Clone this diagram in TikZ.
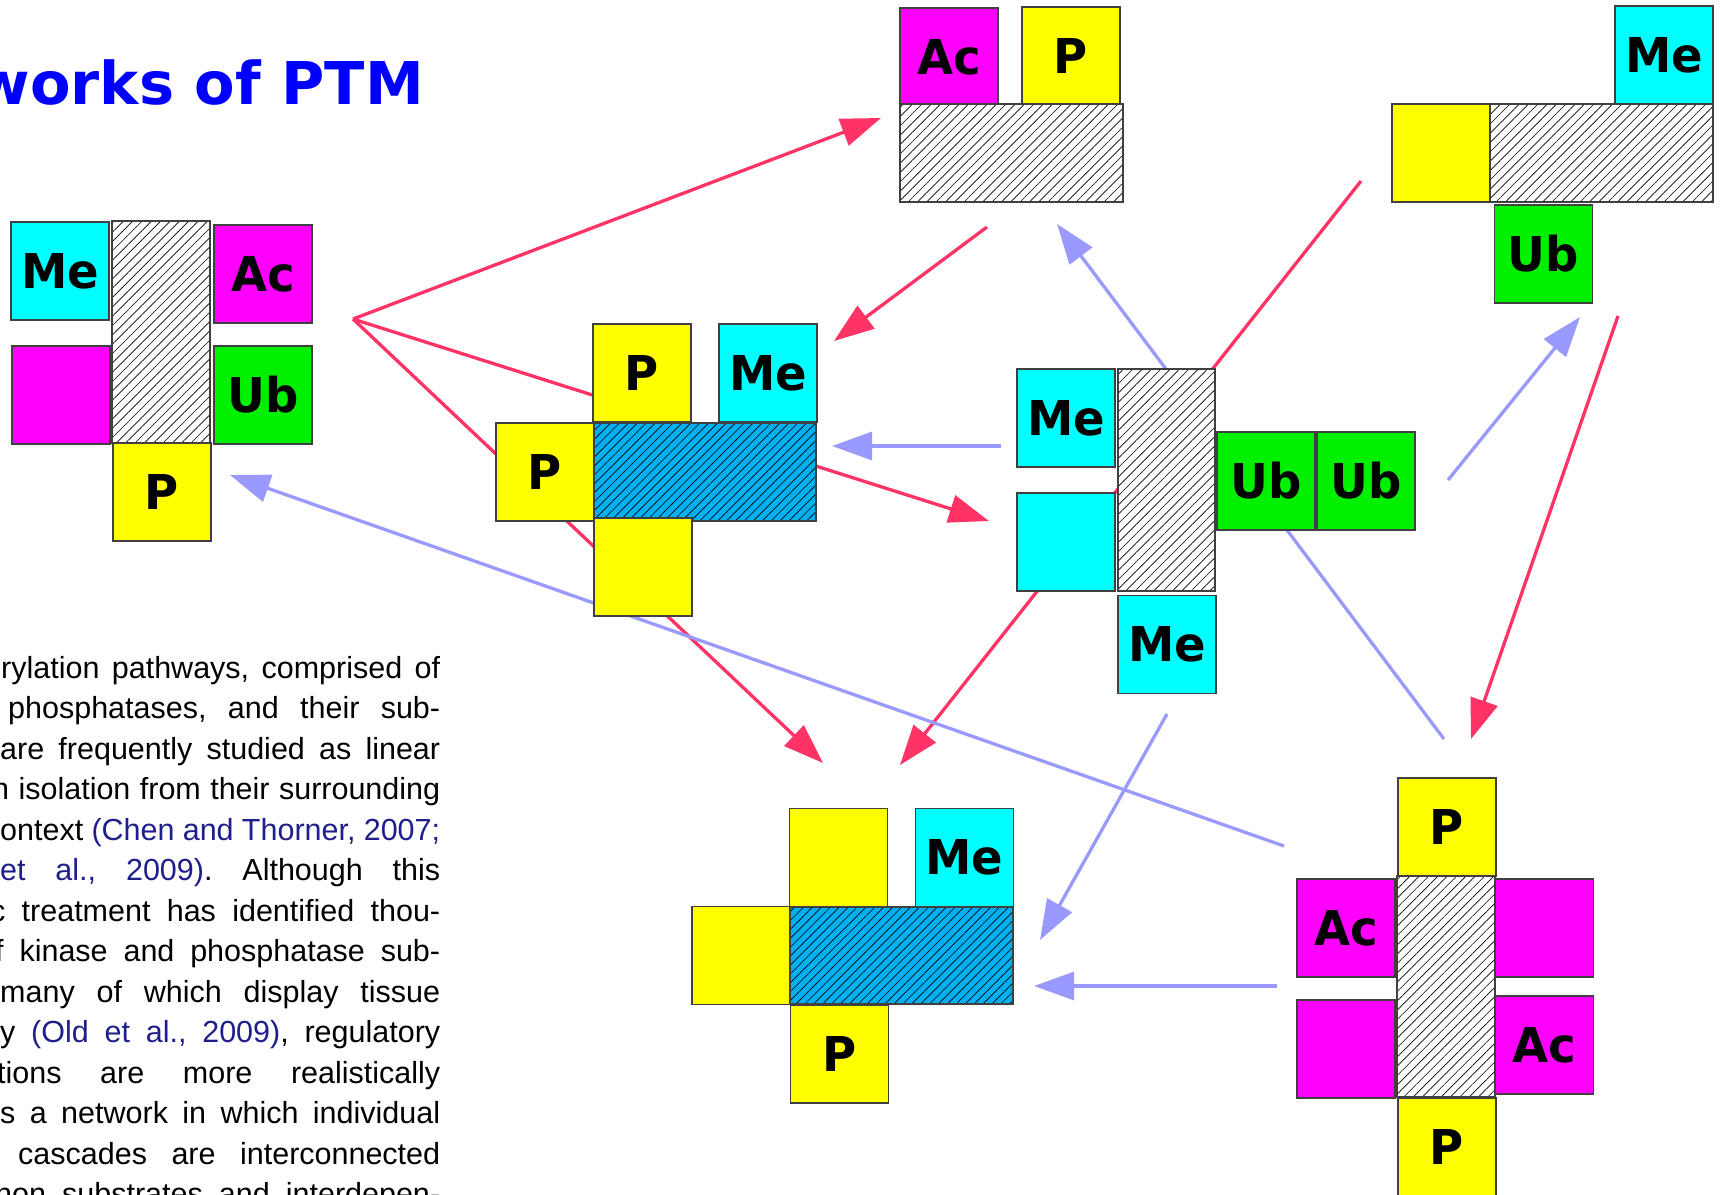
\documentclass[tikz,border=0pt]{standalone}
\usepackage{fontspec}
\setmainfont{Liberation Sans}
\newfontfamily\labelfont[FakeStretch=0.97]{DejaVu Sans}
\newfontfamily\titlefont{DejaVu Sans}
\newfontfamily\bodyfont{Liberation Sans}
\usetikzlibrary{arrows.meta,patterns.meta}
\definecolor{arrred}{RGB}{255,51,102}
\definecolor{arrblue}{RGB}{153,153,255}
\definecolor{boxyellow}{RGB}{255,255,0}
\definecolor{boxcyan}{RGB}{0,255,255}
\definecolor{boxmagenta}{RGB}{255,0,255}
\definecolor{boxgreen}{RGB}{0,240,0}
\definecolor{hatchblue}{RGB}{0,176,240}
\definecolor{titleblue}{RGB}{0,0,255}
\definecolor{citeblue}{RGB}{30,30,140}
\tikzset{
  box/.style={draw=black!75, line width=1.2pt, inner sep=0pt,
    minimum width=98pt, minimum height=98pt,
    font=\labelfont\bfseries\fontsize{48}{48}\selectfont, text=black},
  ybox/.style={box, fill=boxyellow},
  cbox/.style={box, fill=boxcyan},
  mbox/.style={box, fill=boxmagenta},
  gbox/.style={box, fill=boxgreen},
  whatch/.style={box, preaction={fill=white},
    pattern={Lines[angle=45,distance=6.6pt,line width=0.65pt]}},
  bhatch/.style={box, preaction={fill=hatchblue},
    pattern={Lines[angle=45,distance=6.3pt,line width=0.65pt]}},
  redarr/.style={draw=arrred, line width=3.3pt, -{Triangle[length=40pt,width=28pt]}},
  bluearr/.style={draw=arrblue, line width=3.3pt, -{Triangle[length=40pt,width=28pt]}},
  bodyline/.style={anchor=base west, inner sep=0pt, text=black,
    font=\bodyfont\fontsize{30.5}{30.5}\selectfont\frenchspacing},
}
\begin{document}
\begin{tikzpicture}[x=1pt,y=-1pt]
\useasboundingbox (0,0) rectangle (1721,1194);
\clip (0,0) rectangle (1721,1194);

% ---------- title
\node[anchor=base east, inner sep=0pt, text=titleblue,
  font=\titlefont\bfseries\fontsize{59}{59}\selectfont] (title) at (424,104) {works of PTM};

% ---------- body text (cut at the left edge)
\node[bodyline] (t1)  at (1,678)    {\makebox[439pt][s]{rylation pathways, comprised of}};
\node[bodyline] (t2)  at (8,718.5)  {\makebox[432pt][s]{phosphatases, and their sub-}};
\node[bodyline] (t3)  at (0,759)    {\makebox[440pt][s]{are frequently studied as linear}};
\node[bodyline] (t4)  at (-8,799.5) {\makebox[448pt][s]{n isolation from their surrounding}};
\node[bodyline] (t5)  at (0,840)    {\makebox[440pt][s]{ontext \textcolor{citeblue}{(Chen and Thorner, 2007;}}};
\node[bodyline] (t6)  at (0,880.5)  {\makebox[440pt][s]{\textcolor{citeblue}{et al., 2009)}. Although this}};
\node[bodyline] (t7)  at (-10,921)  {\makebox[450pt][s]{c treatment has identified thou-}};
\node[bodyline] (t8)  at (-5,961.5) {\makebox[445pt][s]{f kinase and phosphatase sub-}};
\node[bodyline] (t9)  at (0,1002)   {\makebox[440pt][s]{many of which display tissue}};
\node[bodyline] (t10) at (0,1042.5) {\makebox[440pt][s]{y \textcolor{citeblue}{(Old et al., 2009)}, regulatory}};
\node[bodyline] (t11) at (-3,1083)  {\makebox[443pt][s]{tions are more realistically}};
\node[bodyline] (t12) at (0,1123.5) {\makebox[440pt][s]{s a network in which individual}};
\node[bodyline] (t13) at (18,1164)  {\makebox[422pt][s]{cascades are interconnected}};
\node[bodyline] (t14) at (-5,1204.5){\makebox[445pt][s]{non substrates and interdepen-}};

% ---------- connector end points
\coordinate (hub) at (353,319);
\coordinate (r1e) at (881,118);
\coordinate (r2e) at (989,521);
\coordinate (r3e) at (823,763);
\coordinate (r4s) at (987,227);  \coordinate (r4e) at (834,341);
\coordinate (r5s) at (1361,181); \coordinate (r5e) at (900,765);
\coordinate (r7s) at (1618,316); \coordinate (r7e) at (1471,739);
\coordinate (b1s) at (1444,739); \coordinate (b1e) at (1057,224);
\coordinate (b2s) at (1001,446); \coordinate (b2e) at (832,446);
\coordinate (b3s) at (1448,480); \coordinate (b3e) at (1580,317);
\coordinate (b5s) at (1284,846); \coordinate (b5e) at (230,475);
\coordinate (b6s) at (1167,714); \coordinate (b6e) at (1040,940);
\coordinate (b7s) at (1277,986); \coordinate (b7e) at (1034,986);

% ---------- connectors (behind the boxes)
\draw[redarr] (hub) -- (r1e);
\draw[redarr] (hub) -- (r2e);
\draw[redarr] (hub) -- (r3e);
\draw[redarr] (r4s) -- (r4e);
\draw[redarr] (r5s) -- (r5e);
\draw[redarr] (r7s) -- (r7e);
\draw[bluearr] (b1s) -- (b1e);
\draw[bluearr] (b2s) -- (b2e);
\draw[bluearr] (b3s) -- (b3e);
\draw[bluearr] (b5s) -- (b5e);
\draw[bluearr] (b6s) -- (b6e);
\draw[bluearr] (b7s) -- (b7e);

% ---------- complex A (top left)
\node[cbox] (Ame) at (60,271) {Me};
\node[whatch, minimum height=222pt] (Ahat) at (161,332) {};
\node[mbox] (Aac) at (263,274) {Ac};
\node[mbox] (Amag) at (61,395) {};
\node[gbox] (Aub) at (263,395) {Ub};
\node[ybox] (Ap) at (162,492) {P};

% ---------- complex B (middle left)
\node[ybox] (Bp1) at (642,373) {P};
\node[cbox] (Bme) at (768,373) {Me};
\node[ybox] (Bp2) at (545,472) {P};
\node[bhatch, minimum width=222pt] (Bhat) at (705,472) {};
\node[ybox] (By) at (643,567) {};

% ---------- complex C (top middle)
\node[mbox] (Cac) at (949,57) {Ac};
\node[ybox] (Cp) at (1071,56) {P};
\node[whatch, minimum width=223pt] (Chat) at (1011.5,153) {};

% ---------- complex D (top right)
\node[ybox] (Dy) at (1441,153) {};
\node[whatch, minimum width=223pt] (Dhat) at (1601.5,153) {};
\node[cbox] (Dme) at (1664,55) {Me};
\node[gbox] (Dub) at (1543.5,254) {Ub};

% ---------- complex E (centre)
\node[cbox] (Eme) at (1066,418) {Me};
\node[whatch, minimum width=97pt, minimum height=222pt] (Ehat) at (1166.5,480) {};
\node[cbox] (Ecy) at (1066,542) {};
\node[gbox] (Eub1) at (1266,481) {Ub};
\node[gbox] (Eub2) at (1366,481) {Ub};
\node[cbox] (Eme2) at (1167,644.5) {Me};

% ---------- complex F (bottom middle)
\node[ybox] (Fy1) at (838.5,857.5) {};
\node[cbox] (Fme) at (964.5,857.5) {Me};
\node[ybox] (Fy2) at (741,955.5) {};
\node[bhatch, minimum width=223pt, minimum height=97pt] (Fhat) at (901.5,955.5) {};
\node[ybox] (Fp) at (839.5,1054) {P};

% ---------- complex G (bottom right)
\node[ybox] (Gp1) at (1447,827) {P};
\node[whatch, minimum height=221pt] (Ghat) at (1446,986.5) {};
\node[mbox] (Gac1) at (1346,928) {Ac};
\node[mbox] (Gm1) at (1346,1049) {};
\node[mbox] (Gm2) at (1544.5,928) {};
\node[mbox] (Gac2) at (1544.5,1045) {Ac};
\node[ybox] (Gp2) at (1447,1147) {P};
\end{tikzpicture}
\end{document}
